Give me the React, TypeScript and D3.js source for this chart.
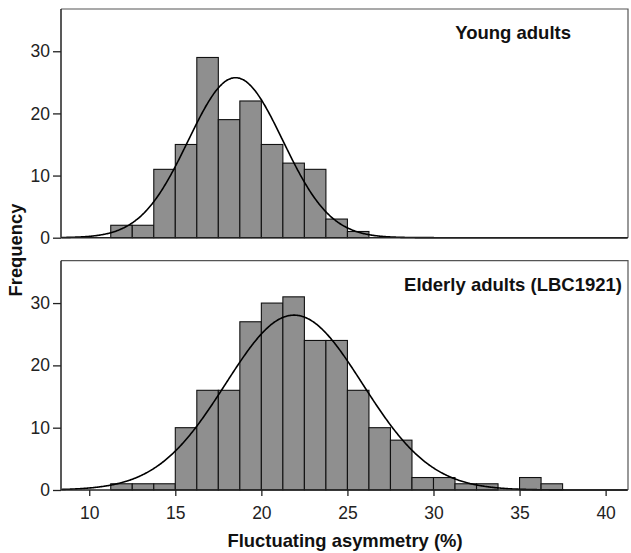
import { useEffect, useRef } from "react";
import * as d3 from "d3";

// bin left edges (width 1.25)
const binStarts = [11.25, 12.5, 13.75, 15, 16.25, 17.5, 18.75, 20, 21.25, 22.5, 23.75, 25, 26.25, 27.5, 28.75, 30, 31.25, 32.5, 33.75, 35, 36.25];
const binWidth = 1.25;

const youngCounts = [2, 2, 11, 15, 29, 19, 22, 15, 12, 11, 3, 1, 0, 0, 0, 0, 0, 0, 0, 0, 0];
const elderlyCounts = [1, 1, 1, 10, 16, 16, 27, 30, 31, 24, 24, 16, 10, 8, 2, 2, 1, 1, 0, 2, 1];

// fitted normal curves
const youngFit = { mean: 18.5, sd: 2.75 };
const elderlyFit = { mean: 21.9, sd: 3.98 };

const xTicks = [10, 15, 20, 25, 30, 35, 40];
const yTicks = [0, 10, 20, 30];

const panelTitles = ["Young adults", "Elderly adults (LBC1921)"];

const W = 631;
const H = 553;
const font = "'Liberation Sans', Arial, Helvetica, sans-serif";

const App = () => {
  const svgRef = useRef(null);

  function drawPanel(svg, counts, fit, title, top, bottom, showX) {
    const x = d3.scaleLinear().domain([8.36, 41.3]).range([61, 628]);
    const y = d3.scaleLinear().domain([0, 36.8]).range([bottom, top]);

    const g = svg.append("g");

    // frame: top and right border
    g.append("path")
      .attr("d", `M61,${top}H628V${bottom}`)
      .attr("fill", "none")
      .attr("stroke", "#555")
      .attr("stroke-width", 1.2);

    const bins = binStarts.map((s, i) => ({ x0: s, x1: s + binWidth, n: counts[i] })).filter((d) => d.n > 0);

    g.selectAll("rect")
      .data(bins)
      .enter()
      .append("rect")
      .attr("x", (d) => x(d.x0))
      .attr("width", (d) => x(d.x1) - x(d.x0))
      .attr("y", (d) => y(d.n))
      .attr("height", (d) => y(0) - y(d.n))
      .attr("fill", "#8f8f8f")
      .attr("stroke", "#111")
      .attr("stroke-width", 1.1);

    // normal curve
    const total = d3.sum(counts);
    const k = (total * binWidth) / (fit.sd * Math.sqrt(2 * Math.PI));
    const pts = d3.range(8.4, 41.3, 0.05).map((v) => [v, k * Math.exp(-((v - fit.mean) ** 2) / (2 * fit.sd * fit.sd))]);
    const line = d3
      .line()
      .x((d) => x(d[0]))
      .y((d) => y(d[1]))
      .curve(d3.curveBasis);
    g.append("path")
      .datum(pts)
      .attr("fill", "none")
      .attr("stroke", "#000")
      .attr("stroke-width", 1.6)
      .attr("d", line);

    // y axis
    const yAxis = d3.axisLeft(y).tickValues(yTicks).tickSize(8).tickPadding(3).tickSizeOuter(0);
    const ya = g.append("g").attr("transform", "translate(61,0)").call(yAxis);
    ya.select(".domain").attr("d", `M0,${top}V${bottom}`).attr("stroke", "#222").attr("stroke-width", 1.5);
    ya.selectAll("line").attr("stroke", "#222").attr("stroke-width", 1.3);
    ya.selectAll("text").attr("font-family", font).attr("font-size", 17.5).attr("fill", "#222");

    // x axis
    const xAxis = d3.axisBottom(x).tickValues(showX ? xTicks : []).tickSize(6).tickPadding(11).tickSizeOuter(0);
    const xa = g.append("g").attr("transform", `translate(0,${bottom})`).call(xAxis);
    xa.select(".domain").attr("d", "M61,0H628").attr("stroke", "#222").attr("stroke-width", 1.5);
    xa.selectAll("line").attr("stroke", "#222").attr("stroke-width", 1.3);
    xa.selectAll("text").attr("font-family", font).attr("font-size", 17.5).attr("fill", "#222");

    g.append("text")
      .attr("x", title === panelTitles[0] ? 571 : 622)
      .attr("y", top + 30)
      .attr("text-anchor", "end")
      .attr("font-family", font)
      .attr("font-weight", "bold")
      .attr("font-size", 18.5)
      .attr("fill", "#111")
      .text(title);
  }

  useEffect(() => {
    const svg = d3.select(svgRef.current);
    svg.selectAll("*").remove();

    drawPanel(svg, youngCounts, youngFit, panelTitles[0], 9, 237.7, false);
    drawPanel(svg, elderlyCounts, elderlyFit, panelTitles[1], 260.7, 490, true);

    svg.append("text")
      .attr("transform", "translate(22,250) rotate(-90)")
      .attr("text-anchor", "middle")
      .attr("font-family", font)
      .attr("font-weight", "bold")
      .attr("font-size", 18.4)
      .attr("fill", "#111")
      .text("Frequency");

    svg.append("text")
      .attr("x", 345)
      .attr("y", 547)
      .attr("text-anchor", "middle")
      .attr("font-family", font)
      .attr("font-weight", "bold")
      .attr("font-size", 18.4)
      .attr("fill", "#111")
      .text("Fluctuating asymmetry (%)");
  }, []);

  return (
    <svg
      ref={svgRef}
      width={W}
      height={H}
      style={{ position: "absolute", left: 0, top: 0, background: "#fff" }}
    ></svg>
  );
};

export default App;
